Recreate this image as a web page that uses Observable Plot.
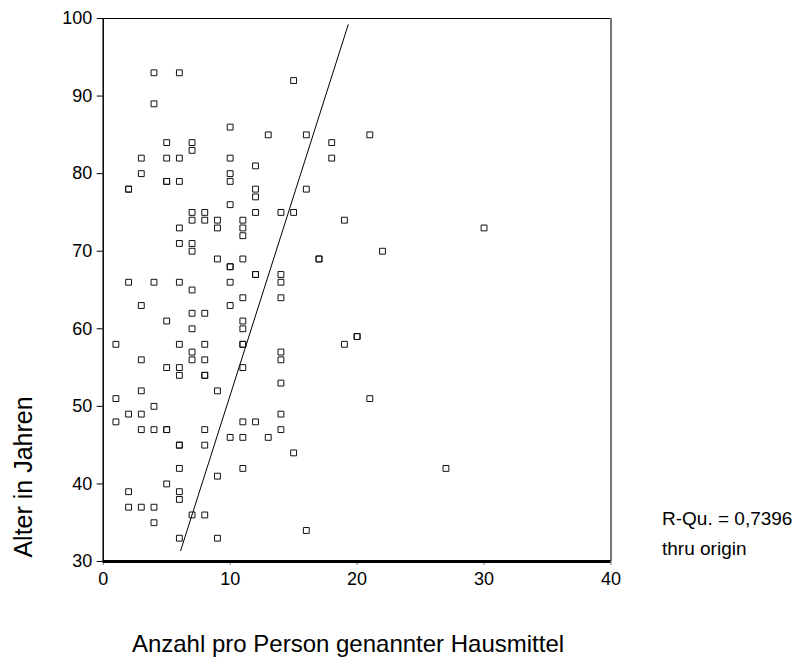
<!DOCTYPE html>
<html>
<head>
<meta charset="utf-8">
<script src="https://cdn.jsdelivr.net/npm/d3@7"></script>
<script src="https://cdn.jsdelivr.net/npm/@observablehq/plot@0.6"></script>
<style>
  html, body { margin: 0; padding: 0; background: #fff; }
  #chart svg { display: block; }
</style>
</head>
<body>
<div id="chart"></div>
<script>
// Anzahl pro Person genannter Hausmittel (x) and Alter in Jahren (y)
const anzahl = [4,6,4,10,13,5,7,7,3,5,6,10,12,3,10,10,2,2,5,5,6,12,12,10,
  15,16,21,18,18,16,
  14,15,19,17,17,22,14,14,14,20,20,19,14,14,14,
  21,14,14,15,27,16,30,
  7,8,12,7,8,9,9,11,11,11,6,6,7,7,9,11,10,10,12,12,2,4,6,10,7,11,3,10,7,8,5,11,11,7,1,6,8,11,11,7,3,7,8,5,6,6,8,8,11,3,9,
  1,2,3,4,1,3,4,5,5,8,11,12,10,11,13,6,6,8,6,11,9,5,2,6,6,2,3,4,4,7,8,6,9];
const alter = [93,93,89,86,85,84,84,83,82,82,82,82,81,80,80,79,78,78,79,79,79,78,77,76,
  92,85,85,84,82,78,
  75,75,74,69,69,70,67,66,64,59,59,58,57,56,53,
  51,49,47,44,42,34,73,
  75,75,75,74,74,74,73,74,73,72,73,71,71,70,69,69,68,68,67,67,66,66,66,66,65,64,63,63,62,62,61,61,60,60,58,58,58,58,58,57,56,56,56,55,55,54,54,54,55,52,52,
  51,49,49,50,48,47,47,47,47,47,48,48,46,46,46,45,45,45,42,42,41,40,39,39,38,37,37,37,35,36,36,33,33];
// Fit line through origin (end points)
const fitX = [6.1, 19.3];
const fitY = [31.4, 99.2];
const xTicks = [0, 10, 20, 30, 40];
const yTicks = [30, 40, 50, 60, 70, 80, 90, 100];
const xTitle = "Anzahl pro Person genannter Hausmittel";
const yTitle = "Alter in Jahren";
const fitLabel1 = "R-Qu. = 0,7396";
const fitLabel2 = "thru origin";

const points = anzahl.map((x, i) => ({x, y: alter[i]}));
const fit = fitX.map((x, i) => ({x, y: fitY[i]}));

const chart = Plot.plot({
  width: 806,
  height: 658,
  marginLeft: 102.7,
  marginRight: 195.5,
  marginTop: 18,
  marginBottom: 97,
  style: {fontFamily: "'Liberation Sans', Arial, sans-serif", fontSize: "18px", color: "#000", background: "#fff"},
  x: {domain: [0, 40], ticks: xTicks, label: null},
  y: {domain: [30, 100], ticks: yTicks, label: null},
  marks: [
    Plot.axisX({ticks: xTicks, tickSize: 4, tickPadding: 7, label: null, stroke: "#777", fontSize: 18}),
    Plot.axisY({ticks: yTicks, tickSize: 6, tickPadding: 5, label: null, fontSize: 18}),
    Plot.ruleY([100], {stroke: "#000", strokeWidth: 1}),
    Plot.ruleX([40], {stroke: "#777", strokeWidth: 2}),
    Plot.ruleX([0], {stroke: "#000", strokeWidth: 1.5}),
    Plot.ruleY([30], {stroke: "#000", strokeWidth: 3}),
    Plot.line(fit, {x: "x", y: "y", stroke: "#000", strokeWidth: 1}),
    Plot.dot(points, {x: "x", y: "y", symbol: "square", r: 3.3, stroke: "#111", strokeWidth: 1, fill: "none"})
  ]
});

const svg = d3.select(chart);
const fontFam = "'Liberation Sans', Arial, sans-serif";
svg.append("text")
  .attr("transform", "translate(31.5,477) rotate(-90)")
  .attr("text-anchor", "middle")
  .attr("font-family", fontFam)
  .attr("font-size", 25)
  .attr("fill", "#000")
  .text(yTitle);
svg.append("text")
  .attr("x", 348).attr("y", 652)
  .attr("text-anchor", "middle")
  .attr("font-family", fontFam)
  .attr("font-size", 24)
  .attr("fill", "#000")
  .text(xTitle);
svg.append("text")
  .attr("x", 662).attr("y", 525)
  .attr("text-anchor", "start")
  .attr("font-family", fontFam)
  .attr("font-size", 19)
  .attr("fill", "#000")
  .text(fitLabel1);
svg.append("text")
  .attr("x", 662).attr("y", 555)
  .attr("text-anchor", "start")
  .attr("font-family", fontFam)
  .attr("font-size", 19)
  .attr("fill", "#000")
  .text(fitLabel2);

document.getElementById("chart").append(chart);
</script>
</body>
</html>
